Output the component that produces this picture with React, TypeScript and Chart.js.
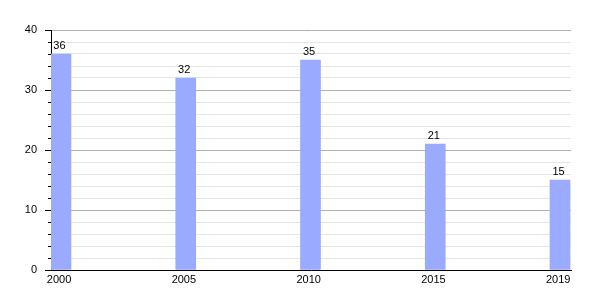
import React, { useEffect, useRef } from "react";
import { Chart, registerables } from "chart.js";

Chart.register(...registerables);

const categories = ["2000", "2005", "2010", "2015", "2019"];
const values = [36, 32, 35, 21, 15];
const yMin = 0;
const yMax = 40;
const yMinorStep = 2;
const yMajorStep = 10;

const FONT = '"Liberation Sans", Arial, sans-serif';

export default function App() {
  const ref = useRef<HTMLCanvasElement>(null);

  useEffect(() => {
    if (!ref.current) return;
    const barOffset = 0.08;
    const points = values.map((v, i) => ({ x: i + barOffset, y: v }));

    const overlay = {
      id: "overlay",
      afterDatasetsDraw(chart: any) {
        const ctx = chart.ctx;
        const meta = chart.getDatasetMeta(0);
        ctx.save();
        ctx.font = `11px ${FONT}`;
        ctx.fillStyle = "#000";
        ctx.textAlign = "center";
        ctx.textBaseline = "alphabetic";
        meta.data.forEach((el: any, i: number) => {
          ctx.fillText(String(values[i]), el.x - 1.5, el.y - 5);
        });
        const ys = chart.scales.y;
        ctx.strokeStyle = "#000";
        ctx.lineWidth = 1;
        ys.ticks.forEach((t: any) => {
          const y = Math.round(ys.getPixelForValue(t.value)) + 0.5;
          const len = t.value % yMajorStep === 0 ? 6 : 3;
          ctx.beginPath();
          ctx.moveTo(ys.right - len, y);
          ctx.lineTo(ys.right, y);
          ctx.stroke();
        });
        ctx.restore();
      },
    };

    const chart = new Chart(ref.current, {
      type: "bar",
      data: {
        datasets: [
          {
            data: points as any,
            backgroundColor: "#99aaff",
            borderWidth: 0,
            barThickness: 20,
          },
        ],
      },
      options: {
        animation: false,
        responsive: false,
        maintainAspectRatio: false,
        layout: { padding: { top: 30, right: 29, bottom: 0, left: 0 } },
        plugins: { legend: { display: false }, tooltip: { enabled: false } },
        scales: {
          x: {
            type: "linear",
            min: 0,
            max: 4.168,
            offset: false,
            grid: { display: false, drawTicks: false, offset: false },
            border: { display: true, color: "#000", width: 1 },
            ticks: {
              autoSkip: false,
              maxRotation: 0,
              padding: 3,
              color: "#000",
              font: { family: FONT, size: 11 },
              callback: (_v: any, index: number) => categories[index],
            },
            afterBuildTicks: (scale: any) => {
              scale.ticks = categories.map((_, i) => ({ value: i + 0.065 }));
            },
            afterFit: (scale: any) => {
              scale.height = 30;
            },
          },
          y: {
            min: yMin,
            max: yMax,
            grid: {
              drawTicks: false,
              color: (c: any) =>
                c.tick && c.tick.value % yMajorStep === 0 ? "#b0b0b0" : "#e4e4e4",
            },
            border: { display: true, color: "#000", width: 1 },
            ticks: {
              stepSize: yMinorStep,
              autoSkip: false,
              padding: 14,
              color: "#000",
              font: { family: FONT, size: 11 },
              callback: (v: any) => (v % yMajorStep === 0 ? String(v) : ""),
            },
            afterFit: (scale: any) => {
              scale.width = 51;
            },
          },
        },
      },
      plugins: [overlay],
    });
    return () => chart.destroy();
  }, []);

  return (
    <div style={{ position: "absolute", left: 0, top: 0, width: 600, height: 300, background: "#fff" }}>
      <canvas ref={ref} width={600} height={300} />
    </div>
  );
}
